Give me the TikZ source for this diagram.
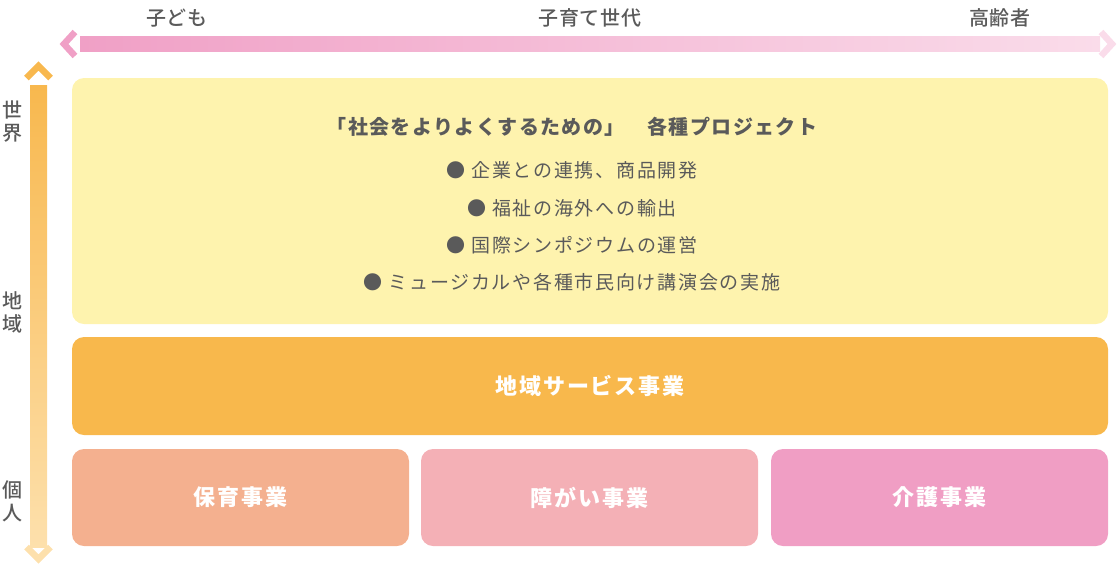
\documentclass[tikz,border=0pt]{standalone}
\usepackage{fontspec}
\setmainfont{Noto Sans CJK JP}[LetterSpace=6]
\newfontface\mediumface{Noto Sans CJK JP Medium}[LetterSpace=4]
\usetikzlibrary{positioning}

\definecolor{textgray}{HTML}{5A5A5A}
\definecolor{pinkL}{HTML}{F0A0C6}
\definecolor{pinkR}{HTML}{FADCEA}
\definecolor{orangeT}{HTML}{F8B84E}
\definecolor{orangeB}{HTML}{FDE0AC}
\definecolor{worldfill}{HTML}{FEF3AE}
\definecolor{localfill}{HTML}{F8B84C}
\definecolor{nurseryfill}{HTML}{F4B08F}
\definecolor{disablefill}{HTML}{F4B0B6}
\definecolor{carefill}{HTML}{F09EC4}

\begin{document}
\begin{tikzpicture}[x=1pt,y=-1pt,
  area box/.style={rectangle,rounded corners=12pt,inner sep=0pt,minimum width=337pt,
    minimum height=97pt,text=white,font=\fontsize{22}{26}\selectfont\bfseries\addfontfeature{LetterSpace=8}},
  list item/.style={text=textgray,font=\fontsize{19}{23}\selectfont\addfontfeature{LetterSpace=9}},
  axis label/.style={text=textgray,font=\fontsize{20}{23}\mediumface,align=center},
  chevron/.style={line width=6.5pt,miter limit=10}]

  \useasboundingbox (0,0) rectangle (1120,566);

  % age axis
  \coordinate (young) at (80,44);
  \coordinate (old) at (1100,44);
  \shade[left color=pinkL,right color=pinkR] ([yshift=7.5pt]young) rectangle ([yshift=-7.5pt]old);
  \draw[chevron,pinkL] (75,32) -- (64,44) -- (75,56);
  \draw[chevron,pinkR] (1101,32) -- (1112,44) -- (1101,56);
  \node[axis label] (kids) at (177,18) {子ども};
  \node[axis label] (parents) at (590,18) {子育て世代};
  \node[axis label] (elderly) at (1000,18) {高齢者};

  % scale axis
  \coordinate (top) at (38.5,85);
  \coordinate (bottom) at (38.5,547);
  \shade[top color=orangeT,bottom color=orangeB] ([xshift=-8.5pt]top) rectangle ([xshift=8.5pt]bottom);
  \draw[chevron,orangeT] (26.5,78) -- (38.5,66) -- (50.5,78);
  \draw[chevron,orangeB] (26.5,547) -- (38.5,559) -- (50.5,547);
  \node[axis label] (world) at (12,122) {世\\界};
  \node[axis label] (region) at (12,312) {地\\域};
  \node[axis label] (person) at (12,501) {個\\人};

  % boxes
  \node[area box,fill=worldfill,minimum width=1036pt,minimum height=246pt] (projects) at (590,201) {};
  \node[area box,fill=localfill,minimum width=1036pt,minimum height=98pt] (local) at (590,386) {地域サービス事業};
  \node[area box,fill=nurseryfill] (nursery) at (240.5,497.5) {保育事業};
  \node[area box,fill=disablefill] (disability) at (589.5,497.5) {障がい事業};
  \node[area box,fill=carefill] (care) at (939.5,497.5) {介護事業};

  % project list
  \node[list item,font=\fontsize{20}{24}\selectfont\bfseries\addfontfeature{LetterSpace=7}] (title) at (572,127) {「社会をよりよくするための」　各種プロジェクト};
  \node[list item] (item1) at (572,170) {● 企業との連携、商品開発};
  \node[list item] (item2) at (572,208) {● 福祉の海外への輸出};
  \node[list item] (item3) at (572,245) {● 国際シンポジウムの運営};
  \node[list item] (item4) at (572,282) {● ミュージカルや各種市民向け講演会の実施};
\end{tikzpicture}
\end{document}
